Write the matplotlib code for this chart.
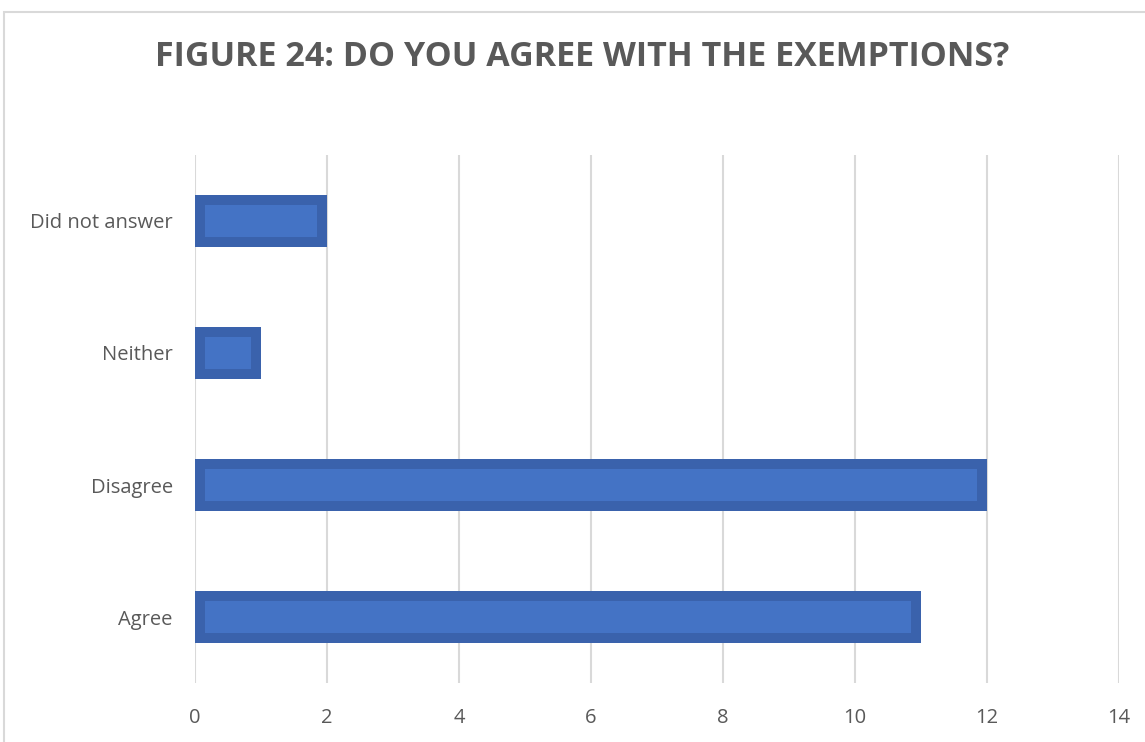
import matplotlib.pyplot as plt
from matplotlib.patches import Rectangle

# --- Data ---
categories = ["Agree", "Disagree", "Neither", "Did not answer"]
counts = [11, 12, 1, 2]
x_ticks = [0, 2, 4, 6, 8, 10, 12, 14]

title = "FIGURE 24: DO YOU AGREE WITH THE EXEMPTIONS?"

plt.rcParams['font.family'] = ['Open Sans', 'DejaVu Sans']

fig = plt.figure(figsize=(11.45, 7.42), dpi=100)
ax = fig.add_axes([195 / 1145, 1 - 683 / 742, 924 / 1145, 528 / 742])

# outer frame (cropped at right and bottom)
fig.patches.append(Rectangle((4 / 1145, -0.1), 1.2, 1 - 12 / 742 + 0.1,
                             transform=fig.transFigure, fill=False,
                             edgecolor="#D9D9D9", linewidth=1.5))

y = list(range(len(categories)))
bar_h = 0.4
inset_x = 10 / 66
inset_y = 10 / 132

# dark outer bar, lighter inner bar
ax.barh(y, counts, height=bar_h, color="#3A62AC", linewidth=0, zorder=3)
ax.barh(y, [c - 2 * inset_x for c in counts], left=inset_x,
        height=bar_h - 2 * inset_y, color="#4473C5", linewidth=0, zorder=4)

ax.set_xlim(0, 14)
ax.set_ylim(-0.5, 3.5)
ax.set_xticks(x_ticks)
ax.set_yticks(y)
ax.set_yticklabels(categories)
ax.grid(axis="x", color="#D9D9D9", linewidth=1.5, zorder=0)
ax.set_axisbelow(True)
for s in ax.spines.values():
    s.set_visible(False)
ax.tick_params(length=0, labelsize=14.5, colors="#595959")
ax.tick_params(axis="x", pad=18)
ax.tick_params(axis="y", pad=16)

fig.text(582 / 1145, 1 - 57 / 742, title, ha="center", va="center",
         fontsize=24.5, fontweight="bold", color="#595959")

fig.savefig("out.png", dpi=100)
